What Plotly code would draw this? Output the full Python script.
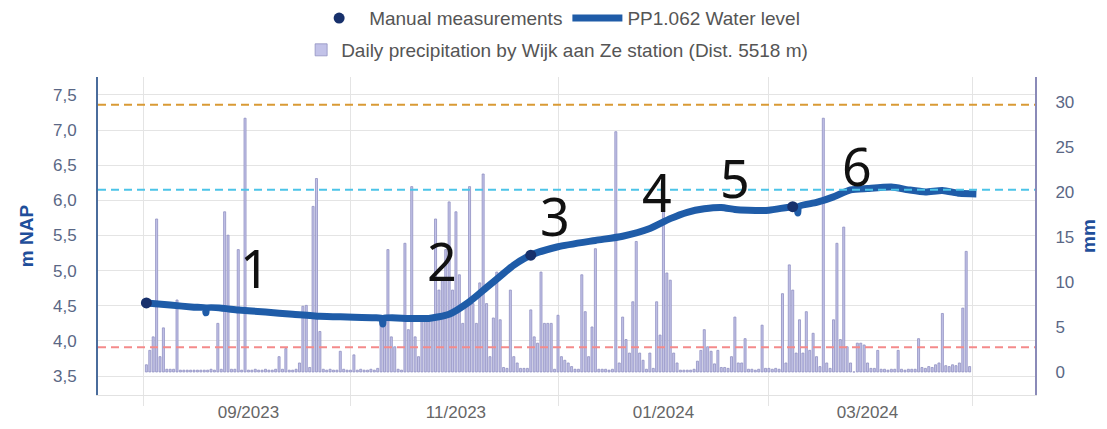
"""Water level PP1.062 with daily precipitation (Wijk aan Ze) on a second axis."""

import pandas as pd
import plotly.graph_objects as go

# ---- data ----

# daily precipitation (mm), one value per day from 2023-08-02 to 2024-03-31
precip_aug = [0.8, 2.4, 3.9, 17.0, 1.7, 4.9, 0.3, 0.3, 0.3, 8.0,
              0.2, 0.2, 0.2, 0.2, 0.2, 0.2, 0.2, 0.2, 0.2, 0.3,
              0.2, 5.4, 0.3, 17.8, 15.2, 0.3, 0.3, 13.6, 0.2, 28.2]
precip_sep = [0.2, 0.2, 0.3, 0.2, 0.2, 0.3, 0.2, 0.2, 0.3, 1.7,
              0.3, 2.6, 0.2, 0.2, 0.3, 1.0, 7.3, 7.4, 0.5, 18.4,
              21.5, 4.5, 0.3, 0.2, 0.3, 0.2, 0.2, 2.3, 0.3, 0.2]
precip_oct = [0.2, 1.9, 0.2, 0.3, 0.2, 0.2, 0.3, 0.2, 0.4, 5.8,
              5.8, 13.6, 3.9, 2.8, 0.3, 0.2, 14.3, 4.7, 20.6, 3.9,
              1.7, 5.8, 5.8, 5.8, 5.8, 17.0, 9.1, 10.2, 13.6, 18.9, 9.1]
precip_nov = [17.8, 10.8, 5.4, 7.6, 20.6, 7.6, 5.4, 9.9, 22.0, 7.6,
              1.7, 6.0, 11.1, 5.8, 0.5, 0.4, 9.1, 1.7, 1.0, 0.4,
              0.4, 0.4, 6.9, 3.9, 3.2, 11.1, 5.4, 5.4, 5.4, 0.3]
precip_dec = [6.3, 1.7, 1.3, 1.0, 0.6, 0.3, 0.3, 10.8, 6.7, 1.7,
              5.0, 13.7, 0.3, 0.3, 0.3, 0.2, 0.3, 26.7, 1.0, 6.1,
              3.6, 2.1, 7.8, 14.5, 2.1, 1.3, 0.3, 2.1, 0.4, 7.8, 4.1]
precip_jan = [21.9, 11.0, 10.2, 2.1, 1.0, 0.2, 0.2, 0.2, 0.2, 0.3,
              1.2, 2.4, 4.7, 2.8, 2.3, 0.9, 2.4, 0.5, 0.5, 0.4,
              1.7, 6.1, 1.0, 1.0, 3.7, 0.3, 0.3, 0.2, 0.3, 5.2, 0.4]
precip_feb = [0.4, 0.3, 0.4, 0.3, 8.7, 1.0, 11.9, 9.1, 2.1, 5.8,
              2.1, 6.7, 2.4, 4.3, 1.7, 0.6, 28.2, 1.0, 0.4, 5.8,
              14.3, 3.6, 16.1, 2.8, 1.0, 0.0, 3.2, 3.2, 3.0]
precip_mar = [1.0, 0.4, 0.4, 2.4, 0.3, 0.3, 0.2, 0.3, 0.3, 2.4,
              0.3, 0.2, 0.3, 0.3, 0.3, 3.7, 0.5, 0.4, 0.6, 0.5,
              0.8, 1.0, 6.5, 0.7, 0.6, 0.8, 0.7, 1.0, 7.1, 13.4, 0.6]

precip_mm = (precip_aug + precip_sep + precip_oct + precip_nov
             + precip_dec + precip_jan + precip_feb + precip_mar)
precip_dates = pd.date_range("2023-08-02", periods=len(precip_mm), freq="D")

# water level PP1.062 (m NAP)
level_dates = [
    "2023-08-02", "2023-08-09", "2023-08-16", "2023-08-19 06:00",
    "2023-08-19 12:00", "2023-08-19 18:00", "2023-08-29", "2023-09-06",
    "2023-09-14", "2023-09-22", "2023-09-30", "2023-10-08",
    "2023-10-10 06:00", "2023-10-10 12:00", "2023-10-10 18:00", "2023-10-18",
    "2023-10-24", "2023-10-30", "2023-11-05", "2023-11-10",
    "2023-11-14", "2023-11-18", "2023-11-23", "2023-12-01",
    "2023-12-12", "2023-12-20", "2023-12-28", "2024-01-03",
    "2024-01-08", "2024-01-13", "2024-01-18", "2024-01-22",
    "2024-01-26", "2024-02-01", "2024-02-08", "2024-02-09 06:00",
    "2024-02-09 12:00", "2024-02-09 18:00", "2024-02-15", "2024-02-20",
    "2024-02-25", "2024-03-01", "2024-03-08", "2024-03-13",
    "2024-03-18", "2024-03-23", "2024-03-28", "2024-04-02",
]
level_m = [
    4.54, 4.51, 4.48, 4.47,
    4.40, 4.47, 4.44, 4.41,
    4.38, 4.35, 4.34, 4.33,
    4.32, 4.24, 4.32, 4.32,
    4.32, 4.38, 4.56, 4.76,
    4.92, 5.08, 5.22, 5.34,
    5.43, 5.49, 5.60, 5.74,
    5.83, 5.88, 5.90, 5.87,
    5.86, 5.86, 5.91, 5.90,
    5.82, 5.91, 5.97, 6.05,
    6.15, 6.17, 6.19, 6.15,
    6.12, 6.14, 6.10, 6.09,
]

# manual measurements (m NAP)
manual_dates = ["2023-08-02", "2023-11-23", "2024-02-08"]
manual_m = [4.54, 5.22, 5.91]

# reference levels (m NAP) drawn as dashed lines
ref_levels = [7.36, 6.15, 3.91]
ref_colors = ["#d99a35", "#4cc4e8", "#f48a8a"]

# period labels
period_labels = ["1", "2", "3", "4", "5", "6"]
period_dates = ["2023-09-03", "2023-10-28", "2023-11-30",
                "2023-12-30", "2024-01-22", "2024-02-27"]
period_levels = [5.05, 5.14, 5.79, 6.12, 6.33, 6.50]

month_ticks = ["2023-09-01", "2023-11-01", "2024-01-01", "2024-03-01"]

# ---- figure ----
BLUE = "#1f5ca8"
TITLE_BLUE = "#1f4e9a"
AXIS_FONT = dict(family="Liberation Sans", size=17, color="#5a6785")
LEGEND_FONT = dict(family="Liberation Sans", size=19, color="#555555")

fig = go.Figure()

fig.add_trace(go.Bar(
    x=precip_dates, y=precip_mm, yaxis="y",
    name="Daily precipitation by Wijk aan Ze station (Dist. 5518 m)",
    marker=dict(color="#c2c2e8", line=dict(color="#9090c2", width=0.8)),
    width=0.6 * 86400000,
    legend="legend2",
))
fig.add_trace(go.Scatter(
    x=level_dates, y=level_m, yaxis="y2", mode="lines",
    name="PP1.062 Water level",
    line=dict(color=BLUE, width=7, shape="spline", smoothing=0.6),
    legend="legend", legendrank=2,
))
fig.add_trace(go.Scatter(
    x=manual_dates, y=manual_m, yaxis="y2", mode="markers",
    name="Manual measurements",
    marker=dict(size=11, color="#17306b"),
    legend="legend", legendrank=1,
))

for level, colour in zip(ref_levels, ref_colors):
    fig.add_shape(
        type="line", xref="paper", x0=0, x1=1, yref="y2", y0=level, y1=level,
        line=dict(color=colour, width=2, dash="8px,5px"),
    )

for label, d, v in zip(period_labels, period_dates, period_levels):
    fig.add_annotation(
        x=d, y=v, xref="x", yref="y2", text=label, showarrow=False,
        font=dict(family="Noto Sans", size=52, color="#111111"),
    )

# the page adds an 8px body margin, so the figure is 16px smaller than the window
fig.update_layout(
    width=1091, height=413,
    margin=dict(l=90, r=64, t=69, b=26, autoexpand=False),
    paper_bgcolor="white", plot_bgcolor="white",
    separators=",.",
    bargap=0.25,
    showlegend=True,
    legend=dict(
        orientation="h", x=0.49, xanchor="center", y=1.185, yanchor="middle",
        font=LEGEND_FONT, itemwidth=50,
    ),
    legend2=dict(
        orientation="h", x=0.49, xanchor="center", y=1.085, yanchor="middle",
        font=LEGEND_FONT,
    ),
    xaxis=dict(
        type="date",
        range=["2023-07-18 18:30", "2024-04-19 05:30"],
        tickvals=month_ticks, tickformat="%m/%Y",
        tickfont=dict(family="Liberation Sans", size=17, color="#666666"),
        ticklabelstandoff=2, automargin=False,
        showgrid=False,
        showline=True, linecolor="#e2e2e2", linewidth=1,
        minor=dict(tick0="2023-08-01", dtick="M2", showgrid=True,
                   gridcolor="#e4e4e4", ticks="outside", ticklen=10,
                   tickcolor="#e4e4e4"),
    ),
    yaxis=dict(
        side="right", range=[-2.56, 32.78], tick0=0, dtick=5,
        showgrid=False, zeroline=False, automargin=False,
        showline=True, linecolor="#8a8ab8", linewidth=2,
        tickfont=AXIS_FONT, ticklabelstandoff=15,
        title=dict(text="<b>mm</b>", font=dict(family="Liberation Sans",
                   size=19, color=TITLE_BLUE), standoff=16),
    ),
    yaxis2=dict(
        overlaying="y", side="left", range=[3.23, 7.756],
        tick0=3.5, dtick=0.5, tickformat=".1f",
        showgrid=True, gridcolor="#e4e4e4", zeroline=False, automargin=False,
        showline=True, linecolor="#4a6c9c", linewidth=2,
        tickfont=AXIS_FONT, ticklabelstandoff=16,
        title=dict(text="<b>m NAP</b>", font=dict(family="Liberation Sans",
                   size=19, color=TITLE_BLUE), standoff=14),
    ),
)

fig.write_html("out.html")
